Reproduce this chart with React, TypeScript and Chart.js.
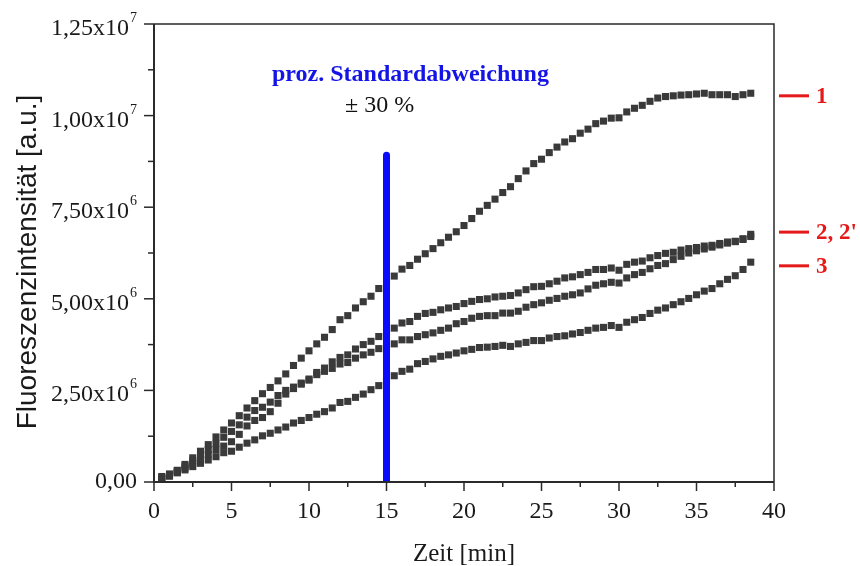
import React, { useEffect, useRef } from "react";
import { Chart, registerables } from "chart.js";

Chart.register(...registerables);

// time axis [min]
const times = [
  0.5, 1.0, 1.5, 2.0, 2.5, 3.0, 3.5, 4.0, 4.5, 5.0,
  5.5, 6.0, 6.5, 7.0, 7.5, 8.0, 8.5, 9.0, 9.5, 10.0,
  10.5, 11.0, 11.5, 12.0, 12.5, 13.0, 13.5, 14.0, 14.5, 15.0,
  15.5, 16.0, 16.5, 17.0, 17.5, 18.0, 18.5, 19.0, 19.5, 20.0,
  20.5, 21.0, 21.5, 22.0, 22.5, 23.0, 23.5, 24.0, 24.5, 25.0,
  25.5, 26.0, 26.5, 27.0, 27.5, 28.0, 28.5, 29.0, 29.5, 30.0,
  30.5, 31.0, 31.5, 32.0, 32.5, 33.0, 33.5, 34.0, 34.5, 35.0,
  35.5, 36.0, 36.5, 37.0, 37.5, 38.0, 38.5,
];

// fluorescence intensity in units of 1e6 a.u.
const series1 = [
  0.15, 0.22, 0.32, 0.48, 0.66, 0.84, 1.02, 1.23, 1.42, 1.61,
  1.81, 2.02, 2.22, 2.41, 2.58, 2.76, 2.95, 3.18, 3.38, 3.58,
  3.77, 3.95, 4.16, 4.43, 4.54, 4.75, 4.92, 5.07, 5.28, 5.45,
  5.62, 5.81, 5.91, 6.08, 6.23, 6.37, 6.53, 6.68, 6.83, 7.0,
  7.19, 7.39, 7.55, 7.72, 7.9, 8.06, 8.28, 8.49, 8.69, 8.81,
  8.99, 9.14, 9.28, 9.37, 9.52, 9.63, 9.78, 9.85, 9.93, 9.94,
  10.1, 10.2, 10.28, 10.39, 10.48, 10.52, 10.54, 10.56, 10.57, 10.59,
  10.61, 10.57, 10.57, 10.57, 10.52, 10.57, 10.61,
];

const series2 = [
  0.12, 0.2, 0.3, 0.44, 0.58, 0.73, 0.88, 1.05, 1.22, 1.38,
  1.56, 1.77, 1.95, 2.04, 2.18, 2.36, 2.5, 2.59, 2.7, 2.81,
  2.99, 3.11, 3.28, 3.4, 3.47, 3.63, 3.75, 3.84, 3.97, 4.08,
  4.2, 4.34, 4.38, 4.52, 4.6, 4.63, 4.7, 4.75, 4.79, 4.87,
  4.93, 4.98, 5.0, 5.05, 5.07, 5.09, 5.16, 5.25, 5.33, 5.34,
  5.41, 5.48, 5.57, 5.6, 5.66, 5.72, 5.8, 5.8, 5.84, 5.78,
  5.94, 6.0, 6.03, 6.12, 6.18, 6.24, 6.27, 6.33, 6.37, 6.4,
  6.44, 6.46, 6.51, 6.55, 6.57, 6.64, 6.76,
];

const series2b = [
  0.1, 0.17, 0.26, 0.38, 0.5, 0.62, 0.75, 0.88, 0.98, 1.1,
  1.3, 1.53, 1.68, 1.76, 1.92, 2.15, 2.4, 2.55, 2.67, 2.78,
  2.93, 3.02, 3.1, 3.22, 3.26, 3.38, 3.47, 3.54, 3.64, 3.7,
  3.77, 3.88, 3.88, 3.97, 4.02, 4.07, 4.14, 4.2, 4.32, 4.38,
  4.47, 4.52, 4.54, 4.54, 4.61, 4.61, 4.66, 4.77, 4.84, 4.89,
  4.96, 5.01, 5.07, 5.11, 5.16, 5.27, 5.37, 5.41, 5.45, 5.43,
  5.57, 5.66, 5.72, 5.82, 5.91, 5.96, 6.07, 6.16, 6.25, 6.31,
  6.36, 6.41, 6.47, 6.52, 6.56, 6.62, 6.7,
];

const series3 = [
  0.08, 0.16, 0.25, 0.33, 0.42, 0.51, 0.6, 0.69, 0.8, 0.84,
  0.95, 1.06, 1.15, 1.26, 1.33, 1.42, 1.5, 1.61, 1.68, 1.76,
  1.85, 1.92, 2.02, 2.17, 2.2, 2.31, 2.4, 2.52, 2.63, 2.77,
  2.9, 3.02, 3.08, 3.23, 3.29, 3.36, 3.43, 3.47, 3.52, 3.58,
  3.62, 3.67, 3.68, 3.7, 3.73, 3.7, 3.77, 3.81, 3.86, 3.86,
  3.93, 3.97, 3.99, 4.04, 4.08, 4.14, 4.2, 4.22, 4.27, 4.22,
  4.36, 4.43, 4.49, 4.6, 4.69, 4.75, 4.84, 4.92, 5.01, 5.11,
  5.21, 5.28, 5.41, 5.53, 5.63, 5.8, 6.0,
];

// axis tick labels
const xTickLabels = ["0", "5", "10", "15", "20", "25", "30", "35", "40"];
const yTickMain = ["0,00", "2,50x10", "5,00x10", "7,50x10", "1,00x10", "1,25x10"];
const yTickExp = ["", "6", "6", "6", "7", "7"];

// standard deviation marker (x in min, y in 1e6 a.u.)
const sdLineX = [15, 15];
const sdLineY = [0, 8.92];
const sdTitle = "proz. Standardabweichung";
const sdValue = "\u00b1 30 %";

// curve labels on the right
const curveLabels = ["1", "2, 2'", "3"];
const curveLabelValues = [10.54, 6.82, 5.9];

const SERIF = '"Liberation Serif", "Times New Roman", serif';
const SANS = '"Liberation Sans", Arial, sans-serif';
const POINT = "#3a3a3a";

const framePlugin = {
  id: "framePlugin",
  afterDraw(chart: any) {
    const ctx = chart.ctx as CanvasRenderingContext2D;
    const { left, right, top, bottom } = chart.chartArea;
    const xs = chart.scales.x;
    const ys = chart.scales.y;
    ctx.save();

    // frame
    ctx.strokeStyle = "#2a2a2a";
    ctx.lineWidth = 1.5;
    ctx.beginPath();
    ctx.moveTo(left, top);
    ctx.lineTo(right, top);
    ctx.lineTo(right, bottom);
    ctx.stroke();
    ctx.lineWidth = 2;
    ctx.beginPath();
    ctx.moveTo(left, top);
    ctx.lineTo(left, bottom);
    ctx.lineTo(right, bottom);
    ctx.stroke();

    // x ticks
    ctx.lineWidth = 1.5;
    const xt = xs.ticks;
    ctx.fillStyle = "#1a1a1a";
    ctx.font = `24px ${SERIF}`;
    ctx.textAlign = "center";
    ctx.textBaseline = "alphabetic";
    xt.forEach((t: any, i: number) => {
      const px = xs.getPixelForValue(t.value);
      ctx.beginPath();
      ctx.moveTo(px, bottom);
      ctx.lineTo(px, bottom + 9);
      ctx.stroke();
      if (i < xt.length - 1) {
        const mid = xs.getPixelForValue((t.value + xt[i + 1].value) / 2);
        ctx.beginPath();
        ctx.moveTo(mid, bottom);
        ctx.lineTo(mid, bottom + 5);
        ctx.stroke();
      }
      ctx.fillText(xTickLabels[i] ?? String(t.value), px, bottom + 36);
    });

    // y ticks
    const yt = ys.ticks;
    yt.forEach((t: any, i: number) => {
      const py = ys.getPixelForValue(t.value);
      ctx.beginPath();
      ctx.moveTo(left - 10, py);
      ctx.lineTo(left, py);
      ctx.stroke();
      if (i < yt.length - 1) {
        const mid = ys.getPixelForValue((t.value + yt[i + 1].value) / 2);
        ctx.beginPath();
        ctx.moveTo(left - 6, mid);
        ctx.lineTo(left, mid);
        ctx.stroke();
      }
      const main = yTickMain[i] ?? String(t.value);
      const exp = yTickExp[i] ?? "";
      const rightEdge = left - 17;
      ctx.textAlign = "right";
      if (exp) {
        ctx.font = `14px ${SERIF}`;
        const ew = ctx.measureText(exp).width;
        ctx.fillText(exp, rightEdge, py - 2);
        ctx.font = `24px ${SERIF}`;
        ctx.fillText(main, rightEdge - ew - 1, py + 11);
      } else {
        ctx.font = `24px ${SERIF}`;
        ctx.fillText(main, rightEdge, py + 6);
      }
    });

    // axis titles
    ctx.textAlign = "center";
    ctx.font = `25px ${SERIF}`;
    ctx.fillStyle = "#1a1a1a";
    ctx.fillText("Zeit [min]", (left + right) / 2, 561);

    ctx.save();
    ctx.translate(28, 262);
    ctx.rotate(-Math.PI / 2);
    ctx.font = `28px ${SANS}`;
    ctx.textBaseline = "middle";
    ctx.fillText("Fluoreszenzintensit\u00e4t [a.u.]", 0, 0);
    ctx.restore();

    // standard deviation annotation
    ctx.textAlign = "left";
    ctx.textBaseline = "alphabetic";
    ctx.font = `bold 24px ${SERIF}`;
    ctx.fillStyle = "#1414e6";
    ctx.fillText(sdTitle, 272, 81);
    ctx.font = `24px ${SERIF}`;
    ctx.fillStyle = "#111";
    ctx.fillText(sdValue, 345, 112);

    // curve labels
    ctx.strokeStyle = "#e41a1a";
    ctx.fillStyle = "#e41a1a";
    ctx.lineWidth = 3;
    ctx.font = `bold 23px ${SERIF}`;
    ctx.textBaseline = "middle";
    curveLabels.forEach((lab, i) => {
      const py = ys.getPixelForValue(curveLabelValues[i]);
      ctx.beginPath();
      ctx.moveTo(right + 5, py);
      ctx.lineTo(right + 35, py);
      ctx.stroke();
      ctx.fillText(lab, right + 42, py + 1);
    });

    ctx.restore();
  },
};

function pts(ys: number[]) {
  return ys.map((v, i) => ({ x: times[i], y: v }));
}

export default function App() {
  const ref = useRef<HTMLCanvasElement | null>(null);

  useEffect(() => {
    if (!ref.current) return;
    const scatterStyle = {
      type: "scatter" as const,
      showLine: false,
      pointStyle: "rect",
      pointRadius: 5,
      pointHoverRadius: 5,
      pointBackgroundColor: POINT,
      pointBorderColor: POINT,
      pointBorderWidth: 0,
      order: 1,
    };
    const chart = new Chart(ref.current, {
      type: "scatter",
      data: {
        datasets: [
          {
            type: "line",
            label: "SD",
            data: sdLineX.map((x, i) => ({ x, y: sdLineY[i] })),
            borderColor: "#0a0aff",
            borderWidth: 7,
            borderCapStyle: "round",
            pointRadius: 0,
            fill: false,
            order: 0,
          } as any,
          { ...scatterStyle, label: "1", data: pts(series1) } as any,
          { ...scatterStyle, label: "2", data: pts(series2) } as any,
          { ...scatterStyle, label: "2'", data: pts(series2b) } as any,
          { ...scatterStyle, label: "3", data: pts(series3) } as any,
        ],
      },
      options: {
        responsive: false,
        animation: false,
        devicePixelRatio: 1,
        layout: { padding: { left: 154, right: 86, top: 24, bottom: 84 } },
        plugins: {
          legend: { display: false },
          tooltip: { enabled: false },
          title: { display: false },
        },
        scales: {
          x: {
            type: "linear",
            min: 0,
            max: 40,
            ticks: { stepSize: 5, display: false },
            grid: { display: false, drawTicks: false },
            border: { display: false },
          },
          y: {
            type: "linear",
            min: 0,
            max: 12.5,
            ticks: { stepSize: 2.5, display: false },
            grid: { display: false, drawTicks: false },
            border: { display: false },
          },
        },
      },
      plugins: [framePlugin],
    });
    return () => chart.destroy();
  }, []);

  return (
    <div style={{ position: "absolute", left: 0, top: 0, width: 860, height: 566, background: "#fff" }}>
      <canvas ref={ref} width={860} height={566} style={{ display: "block" }} />
    </div>
  );
}
